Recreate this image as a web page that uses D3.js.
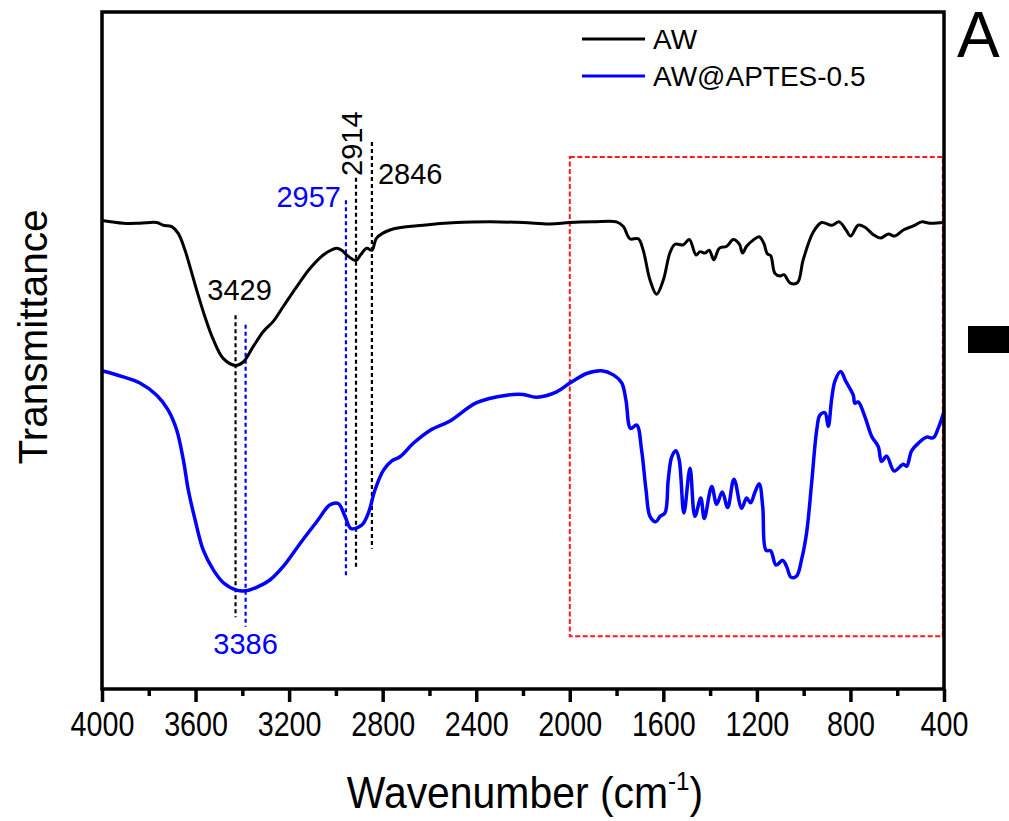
<!DOCTYPE html>
<html>
<head>
<meta charset="utf-8">
<script src="https://cdn.jsdelivr.net/npm/d3@7"></script>
<style>
  html, body { margin: 0; padding: 0; background: #fff; }
  svg text { font-family: "Liberation Sans", Arial, sans-serif; }
</style>
</head>
<body>
<svg id="chart" width="1009" height="821"></svg>
<script>
// FTIR spectra: wavenumber (cm-1) vs transmittance (a.u.)
const awWavenumber = [4000,3909,3838,3766,3738,3702,3674,3645,3624,3595,3560,3524,3481,3429,3396,3353,3310,3268,3225,3168,3111,3054,2997,2975,2954,2914,2895,2868,2846,2826,2769,2626,2484,2341,2199,2085,2000,1900,1800,1771,1743,1707,1686,1657,1629,1600,1572,1550,1515,1489,1460,1443,1422,1404,1384,1361,1329,1301,1275,1261,1244,1216,1190,1170,1156,1141,1123,1101,1084,1059,1027,1002,959,923,880,848,819,799,767,738,702,671,638,610,574,531,496,460,400];
const awTransmittance = [69.2,68.8,68.8,68.9,68.5,68.3,67.3,64.8,62.4,58.9,55.0,51.6,48.8,47.8,48.3,50.6,52.8,54.3,56.5,59.4,62.1,64.1,65.1,64.8,64.1,63.3,64.1,65.1,64.8,66.6,67.8,68.5,68.9,69.0,68.9,68.7,68.9,69.0,69.0,68.3,66.5,66.5,64.8,60.4,58.3,60.4,64.4,65.7,65.6,66.4,64.1,64.6,64.4,64.8,63.4,65.1,65.4,66.4,65.7,64.4,65.4,66.3,66.8,65.8,64.3,64.0,61.4,61.0,61.2,60.0,60.0,63.4,67.5,68.9,68.5,69.0,67.8,66.9,68.5,68.2,67.1,66.6,67.2,66.9,67.8,68.4,69.0,68.8,68.9];

const apWavenumber = [4000,3909,3838,3766,3717,3681,3652,3631,3602,3567,3524,3481,3424,3386,3339,3282,3225,3153,3082,3025,2990,2961,2935,2890,2861,2833,2797,2761,2726,2669,2598,2512,2398,2270,2199,2142,2056,2000,1985,1928,1864,1814,1778,1760,1740,1714,1693,1674,1657,1632,1614,1593,1579,1564,1546,1532,1512,1486,1465,1440,1425,1393,1372,1348,1325,1298,1265,1244,1227,1208,1190,1175,1161,1141,1118,1090,1073,1054,1030,1009,987,966,944,930,909,895,880,866,842,819,788,781,767,738,709,681,667,645,613,574,560,538,510,474,446,425,400];
const apTransmittance = [47.0,46.1,45.2,43.4,41.2,38.3,33.8,29.4,25.0,20.5,17.6,15.7,14.6,14.5,15.0,16.1,18.1,21.5,24.7,27.2,27.4,25.5,23.7,24.2,26.0,29.4,32.3,33.7,34.3,36.3,38.2,39.6,42.3,43.4,43.5,43.1,43.9,45.2,45.5,46.6,47.0,46.4,45.2,42.7,38.5,39.0,35.3,29.4,25.5,24.7,25.5,26.0,30.9,34.3,35.2,33.8,26.0,32.6,25.5,28.2,25.2,29.9,27.3,29.1,26.8,31.0,26.7,28.2,27.5,29.1,30.3,26.9,20.5,20.4,18.3,19.0,18.1,16.5,16.7,19.1,23.2,30.4,38.3,40.5,40.8,38.8,42.9,45.5,46.9,45.4,43.4,42.2,42.4,40.2,37.3,35.8,33.6,34.4,32.2,33.2,32.9,35.2,36.3,37.2,37.1,38.5,41.0];

const seriesNames = ["AW", "AW@APTES-0.5"];
const seriesColors = ["#000000", "#0000ff"];

const xMajorTicks = [4000,3600,3200,2800,2400,2000,1600,1200,800,400];
const xMinorTicks = [3800,3400,3000,2600,2200,1800,1400,1000,600];

// Peak markers: wavenumber, label, colour, dashed-line extent (a.u.)
const peakWavenumbers = [3429, 3386, 2957, 2914, 2846];
const peakLabels = ["3429", "3386", "2957", "2914", "2846"];
const peakColors = ["#000000", "#0000ff", "#0000ff", "#000000", "#000000"];
const peakTop = [55.2, 53.8, 72.2, 75.5, 80.8];
const peakBottom = [10.6, 9.2, 16.8, 17.9, 20.7];

// Highlighted fingerprint region
const regionWavenumber = [2000, 405];
const regionTransmittance = [78.6, 7.8];

const svg = d3.select("#chart");
const margin = { left: 102, right: 65, top: 12, bottom: 132 };
const W = 1009, H = 821;
const x = d3.scaleLinear().domain([4000, 400]).range([margin.left, W - margin.right]);
const y = d3.scaleLinear().domain([0, 100]).range([H - margin.bottom, margin.top]);

// Red dashed box
svg.append("rect")
  .attr("x", x(regionWavenumber[0]))
  .attr("y", y(regionTransmittance[0]))
  .attr("width", x(regionWavenumber[1]) - x(regionWavenumber[0]))
  .attr("height", y(regionTransmittance[1]) - y(regionTransmittance[0]))
  .attr("fill", "none")
  .attr("stroke", "#ff1a1a")
  .attr("stroke-width", 2)
  .attr("stroke-dasharray", "5,2.5");

// Peak guide lines
peakWavenumbers.forEach((wn, i) => {
  svg.append("line")
    .attr("x1", x(wn)).attr("x2", x(wn))
    .attr("y1", y(peakTop[i])).attr("y2", y(peakBottom[i]))
    .attr("stroke", peakColors[i])
    .attr("stroke-width", 2.2)
    .attr("stroke-dasharray", "4,3");
});

// Spectra
const line = d3.line()
  .x(d => x(d[0]))
  .y(d => y(d[1]))
  .curve(d3.curveCatmullRom.alpha(0.5));

const awData = awWavenumber.map((w, i) => [w, awTransmittance[i]]);
const apData = apWavenumber.map((w, i) => [w, apTransmittance[i]]);

svg.append("path").datum(apData)
  .attr("d", line).attr("fill", "none")
  .attr("stroke", seriesColors[1]).attr("stroke-width", 3.5)
  .attr("stroke-linejoin", "round");
svg.append("path").datum(awData)
  .attr("d", line).attr("fill", "none")
  .attr("stroke", seriesColors[0]).attr("stroke-width", 3)
  .attr("stroke-linejoin", "round");

// Peak labels
const labelFont = 29;
svg.append("text").text(peakLabels[0])
  .attr("x", x(peakWavenumbers[0]) + 4).attr("y", 300)
  .attr("text-anchor", "middle").attr("font-size", labelFont).attr("fill", peakColors[0]);
svg.append("text").text(peakLabels[1])
  .attr("x", x(peakWavenumbers[1])).attr("y", 654)
  .attr("text-anchor", "middle").attr("font-size", labelFont).attr("fill", peakColors[1]);
svg.append("text").text(peakLabels[2])
  .attr("x", x(peakWavenumbers[2]) - 5).attr("y", 207)
  .attr("text-anchor", "end").attr("font-size", labelFont).attr("fill", peakColors[2]);
svg.append("text").text(peakLabels[3])
  .attr("transform", `translate(${x(peakWavenumbers[3]) + 6},176) rotate(-90)`)
  .attr("font-size", labelFont).attr("fill", peakColors[3]);
svg.append("text").text(peakLabels[4])
  .attr("x", x(peakWavenumbers[4]) + 6).attr("y", 184)
  .attr("font-size", labelFont).attr("fill", peakColors[4]);

// Frame
svg.append("rect")
  .attr("x", margin.left).attr("y", margin.top)
  .attr("width", W - margin.right - margin.left)
  .attr("height", H - margin.bottom - margin.top)
  .attr("fill", "none").attr("stroke", "#000").attr("stroke-width", 3.5);

// Bottom axis
const axisY = H - margin.bottom;
const gx = svg.append("g").attr("transform", `translate(0,${axisY})`)
  .call(d3.axisBottom(x).tickValues(xMajorTicks).tickFormat(d3.format("d"))
    .tickSize(13).tickPadding(9));
gx.select(".domain").remove();
gx.selectAll(".tick line").attr("stroke", "#000").attr("stroke-width", 3.5);
gx.selectAll(".tick text")
  .attr("font-size", 35)
  .attr("fill", "#000")
  .attr("transform", "scale(0.82,1)");
const gm = svg.append("g").attr("transform", `translate(0,${axisY})`)
  .call(d3.axisBottom(x).tickValues(xMinorTicks).tickSize(7).tickFormat(""));
gm.select(".domain").remove();
gm.selectAll(".tick line").attr("stroke", "#000").attr("stroke-width", 3.5);

// Axis titles
const xt = svg.append("text")
  .attr("transform", `translate(${(margin.left + W - margin.right) / 2 + 2},808) scale(0.93,1)`)
  .attr("text-anchor", "middle").attr("font-size", 44).attr("fill", "#000");
xt.append("tspan").text("Wavenumber (cm");
xt.append("tspan").text("-1").attr("font-size", 26).attr("dy", -18);
xt.append("tspan").text(")").attr("dy", 18);

svg.append("text").text("Transmittance")
  .attr("transform", `translate(47,337) rotate(-90)`)
  .attr("text-anchor", "middle").attr("font-size", 40.5).attr("fill", "#000");

// Legend
const legendY = [39, 76];
seriesNames.forEach((name, i) => {
  svg.append("line")
    .attr("x1", 582).attr("x2", 645)
    .attr("y1", legendY[i]).attr("y2", legendY[i])
    .attr("stroke", seriesColors[i]).attr("stroke-width", 3);
  svg.append("text").text(name)
    .attr("x", 653).attr("y", legendY[i] + 10)
    .attr("font-size", 28).attr("fill", "#000");
});

// Panel letter and neighbouring-panel edge
svg.append("text").text("A")
  .attr("x", 957).attr("y", 57)
  .attr("font-size", 64).attr("fill", "#000");
svg.append("rect")
  .attr("x", 968).attr("y", 326).attr("width", 41).attr("height", 27)
  .attr("fill", "#000");
</script>
</body>
</html>
